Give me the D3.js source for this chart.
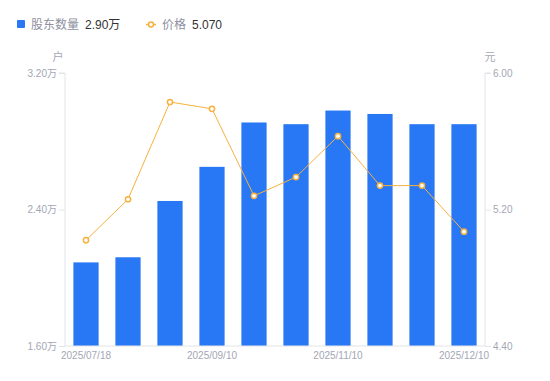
<!DOCTYPE html>
<html>
<head>
<meta charset="utf-8">
<script src="https://cdn.jsdelivr.net/npm/d3@7"></script>
<style>
  body { margin: 0; background: #fff; font-family: "Liberation Sans", "Noto Sans CJK SC", sans-serif; }
  svg text { font-family: "Liberation Sans", "Noto Sans CJK SC", sans-serif; }
</style>
</head>
<body>
<svg id="chart" width="550" height="381"></svg>
<script>
// data
const dates = ["2025/07/18", "2025/07/31", "2025/08/20", "2025/09/10", "2025/09/19",
               "2025/09/30", "2025/11/10", "2025/11/20", "2025/11/28", "2025/12/10"];
const holders = [2.09, 2.12, 2.45, 2.65, 2.91, 2.90, 2.98, 2.96, 2.90, 2.90]; // 万户
const prices = [5.02, 5.26, 5.83, 5.79, 5.28, 5.39, 5.63, 5.34, 5.34, 5.07];   // 元
const leftTicks = [1.6, 2.4, 3.2];
const rightTicks = [4.4, 5.2, 6.0];
const shownDates = ["2025/07/18", "2025/09/10", "2025/11/10", "2025/12/10"];

const BLUE = "#2878f5";
const ORANGE = "#f7b13f";
const GREY_TEXT = "#a3a6b4";
const AXIS = "#e3e4e8";

const svg = d3.select("#chart");
const rect = { left: 65, right: 485, top: 73, bottom: 346 };

const x = d3.scaleBand()
  .domain(dates)
  .range([rect.left, rect.right])
  .paddingInner(0.4)
  .paddingOuter(0.2);

const yLeft = d3.scaleLinear().domain([1.6, 3.2]).range([rect.bottom, rect.top]);
const yRight = d3.scaleLinear().domain([4.4, 6.0]).range([rect.bottom, rect.top]);

// bars
svg.append("g")
  .selectAll("rect.bar")
  .data(dates)
  .join("rect")
    .attr("class", "bar")
    .attr("x", d => x(d))
    .attr("y", (d, i) => yLeft(holders[i]))
    .attr("width", x.bandwidth())
    .attr("height", (d, i) => rect.bottom - yLeft(holders[i]))
    .style("fill", BLUE);

// left axis
let gl = svg.append("g")
  .attr("transform", `translate(${rect.left}, 0)`)
  .call(d3.axisLeft(yLeft).tickValues(leftTicks).tickSize(6).tickPadding(2)
    .tickFormat(d => d3.format(".2f")(d) + "万"));
gl.select(".domain").attr("stroke", AXIS).attr("d", `M-6,${rect.top}H0V${rect.bottom}`);

// right axis
let gr = svg.append("g")
  .attr("transform", `translate(${rect.right}, 0)`)
  .call(d3.axisRight(yRight).tickValues(rightTicks).tickSize(6).tickPadding(2)
    .tickFormat(d3.format(".2f")));
gr.select(".domain").attr("stroke", AXIS).attr("d", `M6,${rect.top}H0V${rect.bottom}`);

// bottom axis
let gb = svg.append("g")
  .attr("transform", `translate(0, ${rect.bottom})`)
  .call(d3.axisBottom(x).tickValues(shownDates).tickSize(0).tickPadding(6));
gb.select(".domain").attr("stroke", AXIS).attr("d", `M${rect.left},0H${rect.right}`);

[gl, gr, gb].forEach(g => {
  g.selectAll(".tick line").attr("stroke", AXIS);
  g.selectAll(".tick text").attr("fill", GREY_TEXT).style("font-size", "10px");
});

// axis units
svg.append("text").attr("x", 58).attr("y", 61).attr("text-anchor", "middle")
  .attr("fill", GREY_TEXT).style("font-size", "11px").text("户");
svg.append("text").attr("x", 490).attr("y", 61).attr("text-anchor", "middle")
  .attr("fill", GREY_TEXT).style("font-size", "11px").text("元");

// price line
const line = d3.line()
  .x(d => x(d.date) + x.bandwidth() / 2)
  .y(d => yRight(d.price));
const pts = dates.map((d, i) => ({ date: d, price: prices[i] }));

svg.append("path")
  .datum(pts)
  .attr("d", line)
  .attr("fill", "none")
  .attr("stroke", ORANGE)
  .attr("stroke-width", 1);

svg.append("g")
  .selectAll("circle")
  .data(pts)
  .join("circle")
    .attr("cx", d => x(d.date) + x.bandwidth() / 2)
    .attr("cy", d => yRight(d.price))
    .attr("r", 2.6)
    .attr("fill", "#fff")
    .attr("stroke", ORANGE)
    .attr("stroke-width", 1.5);

// legend
let lg = svg.append("g").style("font-size", "12px");
lg.append("rect").attr("x", 17).attr("y", 20).attr("width", 8).attr("height", 8)
  .attr("rx", 1).attr("fill", BLUE);
lg.append("text").attr("x", 31).attr("y", 28.5).attr("fill", "#8e90a0").text("股东数量");
lg.append("text").attr("x", 85).attr("y", 28.5).attr("fill", "#333").text(d3.format(".2f")(holders[holders.length - 1]) + "万");

lg.append("line").attr("x1", 146).attr("x2", 156).attr("y1", 24.5).attr("y2", 24.5)
  .attr("stroke", ORANGE).attr("stroke-width", 1.5);
lg.append("circle").attr("cx", 151).attr("cy", 24.5).attr("r", 2.5)
  .attr("fill", "#fff").attr("stroke", ORANGE).attr("stroke-width", 1.5);
lg.append("text").attr("x", 162).attr("y", 28.5).attr("fill", "#8e90a0").text("价格");
lg.append("text").attr("x", 192).attr("y", 28.5).attr("fill", "#333").text(d3.format(".3f")(prices[prices.length - 1]));
</script>
</body>
</html>
